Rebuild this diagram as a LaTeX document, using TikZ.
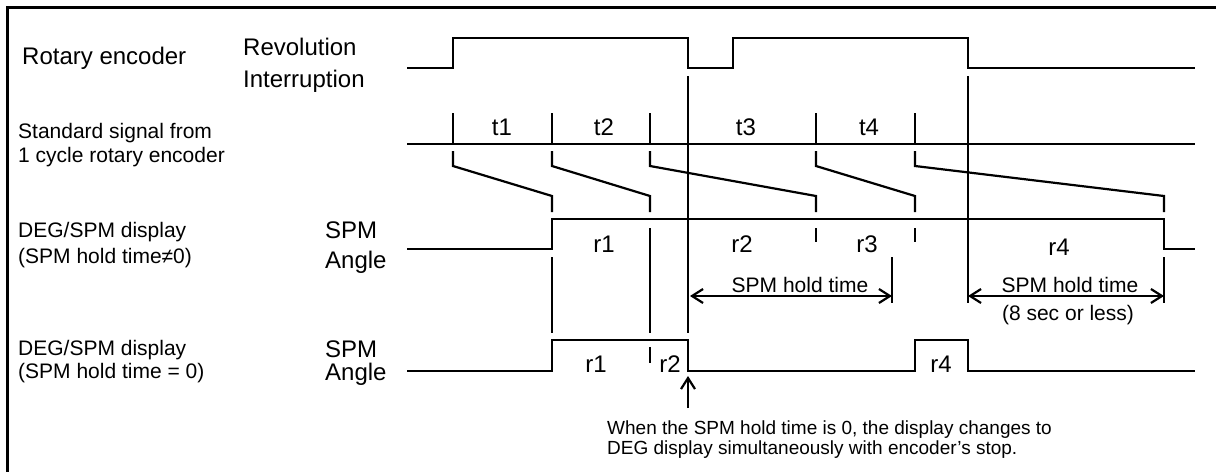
\documentclass[tikz,border=0pt]{standalone}
\usepackage{fontspec}
\setmainfont{Liberation Sans}
\usetikzlibrary{arrows.meta}

\begin{document}
\begin{tikzpicture}[
  x=1pt, y=-1pt,
  wave/.style={line width=2.2pt},
  lbl/.style={inner sep=0pt, font=\fontsize{24}{28}\selectfont},
  sublbl/.style={inner sep=0pt, font=\fontsize{21}{25}\selectfont},
  notelbl/.style={inner sep=0pt, font=\fontsize{19}{23}\selectfont},
  dim/.style={line width=2.2pt,
    {Straight Barb[length=11pt,width=14pt]}-{Straight Barb[length=11pt,width=14pt]}},
  ptr/.style={line width=2.2pt, -{Straight Barb[length=11pt,width=14pt]}}]
\useasboundingbox (0,0) rectangle (1216,472);
% frame, only its top and left edges fall inside the picture
\draw[line width=3pt] (1216,7) -- (7,7) -- (7,472);

% row labels
\node[lbl, anchor=base west] (enc) at (22,64) {Rotary encoder};
\node[lbl, anchor=base west] (rev) at (243,55) {Revolution};
\node[lbl, anchor=base west] (intr) at (243,87) {Interruption};
\node[sublbl, anchor=base west] (std) at (18,138) {Standard signal from};
\node[sublbl, anchor=base west] (stdb) at (18,162) {1 cycle rotary encoder};
\node[sublbl, anchor=base west] (dispa) at (18,237) {DEG/SPM display};
\node[sublbl, anchor=base west] (holda) at (18,263) {(SPM hold time≠0)};
\node[sublbl, anchor=base west] (dispb) at (18,355) {DEG/SPM display};
\node[sublbl, anchor=base west] (holdb) at (18,378) {(SPM hold time = 0)};
\node[lbl, anchor=base west] (spma) at (325,238) {SPM};
\node[lbl, anchor=base west] (anga) at (325,268) {Angle};
\node[lbl, anchor=base west] (spmb) at (325,357) {SPM};
\node[lbl, anchor=base west] (angb) at (325,380) {Angle};

% revolution / interruption
\draw[wave] (407,68) -- (453,68) -- (453,38) -- (688,38) -- (688,68) -- (733,68)
  -- (733,38) -- (968,38) -- (968,68) -- (1195,68);

% standard signal and its delays
\draw[wave] (407,144) -- (1195,144);
\foreach \x in {453,552,650,816,915}
  \draw[wave] (\x,113) -- (\x,144);
\foreach \a/\b in {453/552,552/650,650/816,816/915,915/1164}
  \draw[wave] (\a,151) -- (\a,166) -- (\b,196) -- (\b,212);
\foreach \x/\t in {502/t1,604/t2,746/t3,869/t4}
  \node[lbl, anchor=base] (\t) at (\x,135) {\t};

% display, hold time not 0
\draw[wave] (407,249) -- (552,249) -- (552,219) -- (1164,219) -- (1164,249) -- (1195,249);
\foreach \x in {816,915}
  \draw[wave] (\x,228) -- (\x,242);
\draw[wave] (650,228) -- (650,333);
\draw[wave] (552,257) -- (552,333);
\draw[wave] (688,76) -- (688,333);
\draw[wave] (968,76) -- (968,303);
\draw[wave] (892,257) -- (892,303);
\draw[wave] (1164,257) -- (1164,303);
\node[lbl, anchor=base] (r1a) at (604,252) {r1};
\node[lbl, anchor=base] (r2a) at (742,252) {r2};
\node[lbl, anchor=base] (r3a) at (867,252) {r3};
\node[lbl, anchor=base] (r4a) at (1059,255) {r4};

% hold time spans
\coordinate (ha) at (690,296);
\coordinate (hb) at (892,296);
\coordinate (hc) at (968,296);
\coordinate (hd) at (1164,296);
\draw[dim] (ha) -- (hb);
\draw[dim] (hc) -- (hd);
\node[sublbl, anchor=base] (hta) at (800,292) {SPM hold time};
\node[sublbl, anchor=base] (htb) at (1070,292) {SPM hold time};
\node[sublbl, anchor=base] (htc) at (1068,320) {(8 sec or less)};

% display, hold time 0
\draw[wave] (407,371) -- (552,371) -- (552,340) -- (688,340) -- (688,371) -- (915,371)
  -- (915,340) -- (968,340) -- (968,371) -- (1195,371);
\draw[wave] (650,347) -- (650,363);
\node[lbl, anchor=base] (r1b) at (596,372) {r1};
\node[lbl, anchor=base] (r2b) at (670,372) {r2};
\node[lbl, anchor=base] (r4b) at (941,372) {r4};

% note
\node[notelbl, anchor=base west] (notea) at (607,434) {When the SPM hold time is 0, the display changes to};
\node[notelbl, anchor=base west] (noteb) at (607,454) {DEG display simultaneously with encoder’s stop.};
\coordinate (stop) at (688,376);
\coordinate (tail) at (688,408);
\draw[ptr] (tail) -- (stop);
\end{tikzpicture}
\end{document}
